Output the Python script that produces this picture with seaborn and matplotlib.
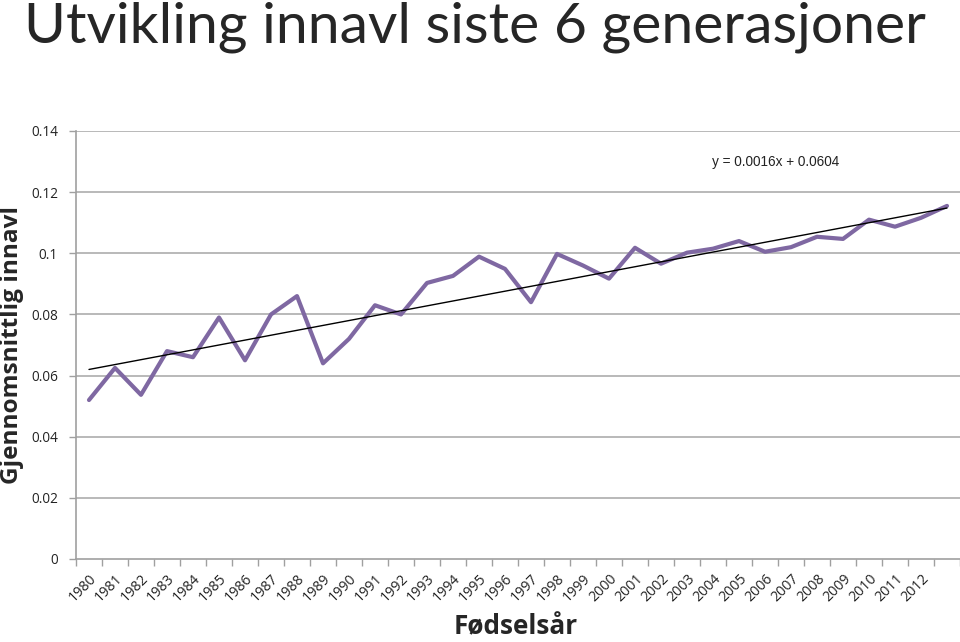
import matplotlib
matplotlib.use("Agg")
import matplotlib.pyplot as plt
import matplotlib.transforms as mtransforms
import seaborn as sns
import numpy as np
import pandas as pd

years = list(range(1980, 2014))
year_labels = [str(y) for y in range(1980, 2013)] + [""]
innavl = [0.052, 0.0625, 0.0537, 0.068, 0.066, 0.079, 0.065, 0.080, 0.086, 0.064,
          0.072, 0.083, 0.080, 0.0903, 0.0926, 0.0989, 0.0949, 0.084, 0.0998, 0.096,
          0.0917, 0.1018, 0.0966, 0.1002, 0.1015, 0.104, 0.1005, 0.102, 0.1054, 0.1047,
          0.111, 0.1087, 0.1116, 0.1155]
trend_slope = 0.0016
trend_intercept = 0.0604
y_ticks = [0, 0.02, 0.04, 0.06, 0.08, 0.1, 0.12, 0.14]
y_tick_labels = ["0", "0.02", "0.04", "0.06", "0.08", "0.1", "0.12", "0.14"]

sns.set_theme(style="white")
plt.rcParams['font.family'] = ['Open Sans', 'DejaVu Sans']

idx = np.arange(len(years))
df = pd.DataFrame({"pos": idx, "innavl": innavl})
trend_df = pd.DataFrame({"pos": idx, "trend": trend_intercept + trend_slope * (idx + 1)})

fig = plt.figure(figsize=(9.6, 6.42), dpi=100)
ax = fig.add_axes([76 / 960, 1 - 559 / 642, 884 / 960, (559 - 131) / 642])

for yt in y_ticks[1:]:
    ax.axhline(yt, color="#b3b3b3", lw=1.3, zorder=0)

sns.lineplot(data=df, x="pos", y="innavl", ax=ax, color="#7f68a2", lw=3.0, zorder=3)
sns.lineplot(data=trend_df, x="pos", y="trend", ax=ax, color="black", lw=1.0, zorder=4)

ax.set_xlim(-0.5, len(years) - 0.5)
ax.set_ylim(0, 0.14)
ax.set_yticks(y_ticks)
ax.set_yticklabels(y_tick_labels, fontsize=9.8, color="#222222")
ax.set_xticks(idx)
ax.set_xticklabels(year_labels, rotation=45, ha="right", rotation_mode="anchor",
                   fontsize=10.2, color="#222222")
offset = mtransforms.ScaledTranslation(4 / 100, 0, fig.dpi_scale_trans)
for lab in ax.get_xticklabels():
    lab.set_transform(lab.get_transform() + offset)
ax.xaxis.set_tick_params(length=0, pad=9)
ax.set_xticks(np.arange(-0.5, len(years), 1), minor=True)
ax.tick_params(axis="x", which="minor", length=5, color="#a0a0a0", width=1, direction="out", bottom=True)
ax.tick_params(axis="y", which="major", length=5, color="#a0a0a0", width=1, direction="out", left=True, pad=8)

for s in ["top", "right"]:
    ax.spines[s].set_visible(False)
for s in ["left", "bottom"]:
    ax.spines[s].set_color("#a0a0a0")
    ax.spines[s].set_linewidth(1.2)

ax.set_xlabel("")
ax.set_ylabel("")

fig.text(475 / 960, 1 - 27 / 642, "Utvikling innavl siste 6 generasjoner", ha="center", va="center",
         fontsize=41, family=["Lato", "DejaVu Sans"])
fig.text(12 / 960, 1 - 345 / 642, "Gjennomsnittlig innavl", rotation=90, ha="center", va="center",
         fontsize=17.6, fontweight="bold")
fig.text(516 / 960, 1 - 627 / 642, "Fødselsår", ha="center", va="center",
         fontsize=18.8, fontweight="bold")
fig.text(776 / 960, 1 - 162 / 642, "y = 0.0016x + 0.0604", ha="center", va="center",
         fontsize=9.8, color="#222222", family=["Liberation Sans", "DejaVu Sans"])

fig.savefig("out.png", dpi=100)
